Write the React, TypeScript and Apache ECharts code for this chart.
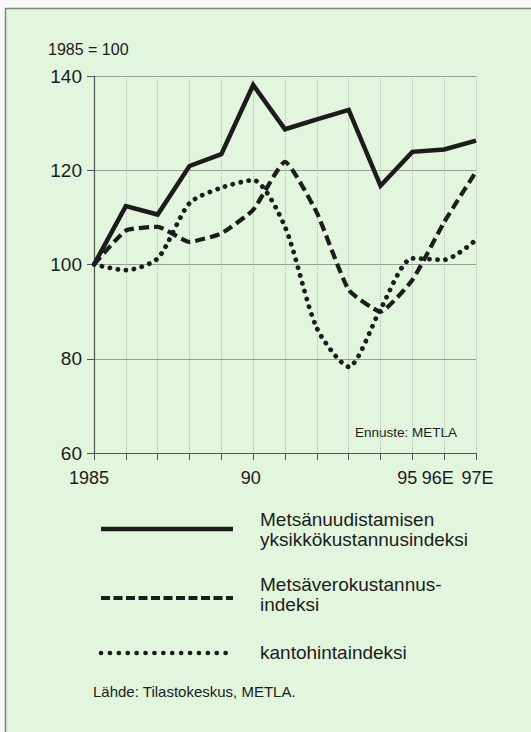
import React, { useEffect, useRef } from "react";
import * as echarts from "echarts";

const years = ["1985", "1986", "1987", "1988", "1989", "1990", "1991", "1992", "1993", "1994", "1995", "1996", "1997"];
const xTickLabels = ["1985", "", "", "", "", "90", "", "", "", "", "95", "96E", "97E"];
const yTicks = [60, 80, 100, 120, 140];

const uudistaminen = [100, 112.4, 110.6, 120.9, 123.4, 138.1, 128.7, 130.8, 132.8, 116.7, 123.9, 124.4, 126.3];
const verokustannus = [100, 107.2, 108.0, 104.8, 106.6, 111.6, 121.8, 111.0, 94.6, 90.0, 96.7, 109.0, 119.7];
const kantohinta = [100, 98.8, 101.3, 113.0, 116.3, 117.9, 108.0, 86.5, 78.3, 90.5, 101.3, 101.0, 105.2];

const seriesNames = ["Metsänuudistamisen\nyksikkökustannusindeksi", "Metsäverokustannus-\nindeksi", "kantohintaindeksi"];

const FONT = "'Liberation Sans', Arial, Helvetica, sans-serif";
const INK = "#1c1c1c";
const BG = "#e2f5dd";

const labelShift: Record<string, string> = {
  "1985": "a",
  "90": "b",
  "95": "a",
  "96E": "c",
  "97E": "d",
};

export default function App() {
  const ref = useRef<HTMLDivElement>(null);
  useEffect(() => {
    document.body.style.margin = "0";
    if (!ref.current) return;
    const chart = echarts.init(ref.current, null, { renderer: "svg" });
    const legendY = [529, 598, 653];
    const legendDash: any[] = [null, [9, 3.5], [0.1, 8.8]];
    const legendCap = ["butt", "butt", "round"];
    const legendText = seriesNames.map((name, i) => ({
      type: "text",
      left: 260,
      top: [509, 574, 642][i],
      style: {
        text: name,
        font: `19px ${FONT}`,
        fill: INK,
        lineHeight: 20.5,
      },
    }));
    const legendLines = legendY.map((y, i) => ({
      type: "line",
      shape: { x1: 101, y1: y, x2: 233, y2: y },
      style: {
        stroke: INK,
        lineWidth: i === 0 ? 4.5 : i === 1 ? 4.2 : 4.6,
        lineDash: legendDash[i] || undefined,
        lineCap: legendCap[i],
      },
    }));
    chart.setOption({
      animation: false,
      backgroundColor: BG,
      textStyle: { fontFamily: FONT },
      grid: { left: 94, right: 55, top: 76, bottom: 279, containLabel: false },
      xAxis: {
        type: "category",
        data: years,
        boundaryGap: false,
        axisLine: { lineStyle: { color: "#555", width: 1.2 } },
        axisTick: { show: true, length: 7, interval: 0, lineStyle: { color: "#555" } },
        axisLabel: {
          interval: 0,
          margin: 16,
          fontSize: 18,
          color: INK,
          fontFamily: FONT,
          formatter: (v: string, idx: number) => {
            const t = xTickLabels[idx];
            if (!t) return "";
            return `{${labelShift[t]}|${t}}`;
          },
          rich: {
            a: { fontSize: 18, fontFamily: FONT, color: INK, padding: [0, 10, 0, 0] },
            b: { fontSize: 18, fontFamily: FONT, color: INK, padding: [0, 5, 0, 0] },
            c: { fontSize: 18, fontFamily: FONT, color: INK, padding: [0, 13, 0, 0] },
            d: { fontSize: 18, fontFamily: FONT, color: INK, padding: [0, 0, 0, 3] },
          },
        },
        splitLine: { show: true, interval: 0, lineStyle: { color: "#a3aea3", width: 0.8, type: [1, 1] } },
      },
      yAxis: {
        type: "value",
        min: 60,
        max: 140,
        interval: 20,
        axisLine: { show: true, lineStyle: { color: "#555", width: 1.2 } },
        axisTick: { show: true, length: 7, lineStyle: { color: "#555" } },
        axisLabel: {
          margin: 12,
          fontSize: 19,
          color: INK,
          fontFamily: FONT,
          formatter: (v: number) => (yTicks.includes(v) ? String(v) : ""),
        },
        splitLine: { show: true, lineStyle: { color: "#959f95", width: 1 } },
      },
      series: [
        {
          name: seriesNames[0],
          type: "line",
          data: uudistaminen,
          symbol: "none",
          lineStyle: { color: INK, width: 4.5, join: "miter" },
          z: 5,
        },
        {
          name: seriesNames[1],
          type: "line",
          data: verokustannus,
          symbol: "none",
          smooth: 0.15,
          lineStyle: { color: INK, width: 4.2, type: [10, 5] },
          z: 4,
        },
        {
          name: seriesNames[2],
          type: "line",
          data: kantohinta,
          symbol: "none",
          smooth: 0.25,
          lineStyle: { color: INK, width: 4.8, type: [0.1, 8], cap: "round" },
          z: 3,
        },
      ],
      graphic: [
        { type: "rect", shape: { x: 0, y: 0, width: 5, height: 732 }, style: { fill: "#f6f9f5" }, silent: true },
        { type: "rect", shape: { x: 0, y: 0, width: 531, height: 8 }, style: { fill: "#f6f9f5" }, silent: true },
        { type: "line", shape: { x1: 5.5, y1: 8, x2: 5.5, y2: 732 }, style: { stroke: "#7f857e", lineWidth: 1.5 }, silent: true },
        { type: "line", shape: { x1: 5, y1: 8.5, x2: 531, y2: 8.5 }, style: { stroke: "#7f857e", lineWidth: 1.5 }, silent: true },
        {
          type: "text",
          left: 48,
          top: 41,
          style: { text: "1985 = 100", font: `16px ${FONT}`, fill: INK },
        },
        {
          type: "text",
          left: 355,
          top: 425,
          style: { text: "Ennuste: METLA", font: `13.5px ${FONT}`, fill: INK },
        },
        ...legendLines,
        ...legendText,
        {
          type: "text",
          left: 93,
          top: 684,
          style: { text: "Lähde: Tilastokeskus, METLA.", font: `15px ${FONT}`, fill: INK },
        },
      ],
    });
    return () => chart.dispose();
  }, []);
  return <div ref={ref} style={{ position: "absolute", left: 0, top: 0, width: 531, height: 732 }} />;
}
